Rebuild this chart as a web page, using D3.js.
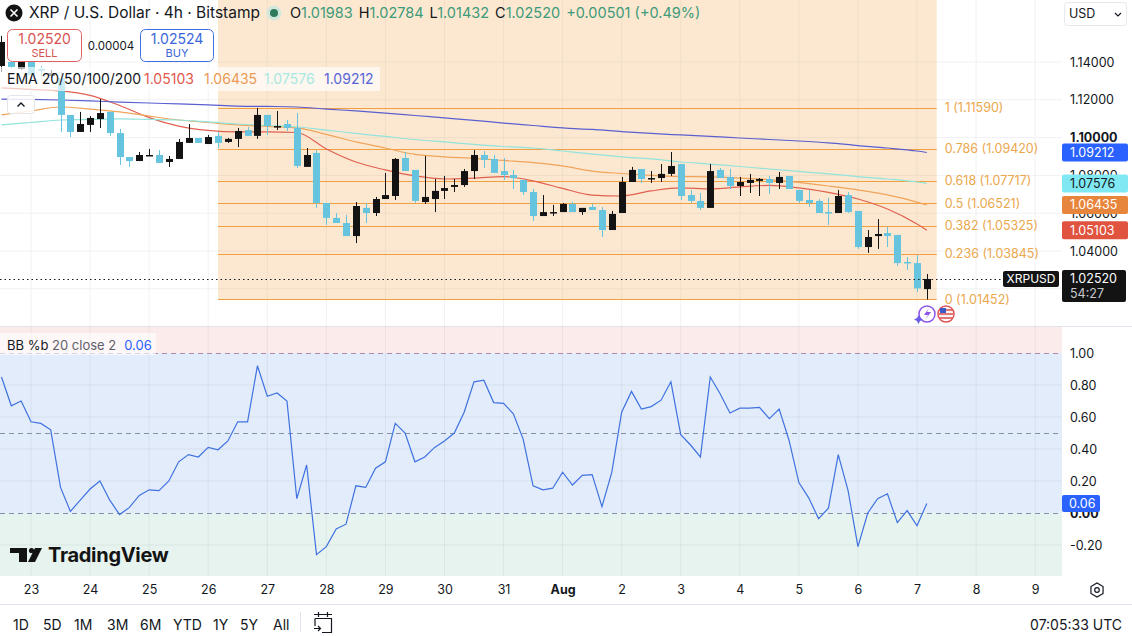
<!DOCTYPE html>
<html>
<head>
<meta charset="utf-8">
<script src="https://cdn.jsdelivr.net/npm/d3@7"></script>
<style>
html, body { margin: 0; padding: 0; background: #fff; overflow: hidden; }
svg { display: block; font-family: Inter, "Noto Sans", sans-serif; }
</style>
</head>
<body>
<div id="chart"></div>
<script>
// XRP/USD 4h candles, first one = Jul 22 12:00 UTC, one every 4 hours
const opens = [1.1379,1.1400,1.1363,1.1400,1.1363,1.1326,1.1315,1.1120,1.1030,1.1067,1.1098,1.1136,1.1024,1.0897,1.0876,1.0903,1.0908,1.0871,1.0887,1.0972,1.0998,1.0966,1.1009,1.0977,1.0993,1.1040,1.1009,1.1120,1.1056,1.1072,1.1051,1.0845,1.0919,1.0654,1.0575,1.0548,1.0479,1.0628,1.0601,1.0675,1.0691,1.0892,1.0829,1.0659,1.0675,1.0718,1.0739,1.0749,1.0823,1.0908,1.0887,1.0823,1.0802,1.0776,1.0712,1.0585,1.0601,1.0606,1.0649,1.0606,1.0633,1.0617,1.0511,1.0601,1.0765,1.0834,1.0781,1.0786,1.0808,1.0860,1.0696,1.0665,1.0628,1.0829,1.0792,1.0744,1.0760,1.0771,1.0781,1.0760,1.0797,1.0723,1.0670,1.0665,1.0606,1.0601,1.0696,1.0612,1.0421,1.0479,1.0495,1.0485,1.0342,1.0336,1.01983];
const highs = [1.1538,1.1411,1.1405,1.1411,1.1379,1.1358,1.1347,1.1120,1.1136,1.1114,1.1204,1.1136,1.1046,1.0897,1.0924,1.0940,1.0934,1.0903,1.0993,1.1072,1.0998,1.1014,1.1030,1.0998,1.1051,1.1056,1.1157,1.1120,1.1141,1.1093,1.1130,1.0945,1.0934,1.0654,1.0601,1.0591,1.0659,1.0654,1.0686,1.0813,1.0892,1.0924,1.0829,1.0903,1.0781,1.0797,1.0781,1.0834,1.0934,1.0929,1.0908,1.0892,1.0829,1.0776,1.0728,1.0696,1.0644,1.0654,1.0659,1.0628,1.0649,1.0633,1.0612,1.0792,1.0845,1.0834,1.0823,1.0860,1.0924,1.0860,1.0723,1.0707,1.0860,1.0839,1.0834,1.0792,1.0808,1.0786,1.0797,1.0818,1.0797,1.0723,1.0723,1.0675,1.0681,1.0723,1.0712,1.0612,1.0511,1.0569,1.0527,1.0485,1.0368,1.0379,1.02784];
const lows = [1.1347,1.1363,1.1358,1.1305,1.1326,1.1315,1.1030,1.1003,1.1030,1.1030,1.1051,1.1009,1.0855,1.0845,1.0876,1.0903,1.0866,1.0845,1.0887,1.0972,1.0972,1.0966,1.0945,1.0972,1.0950,1.1009,1.0993,1.1014,1.1040,1.1035,1.0839,1.0845,1.0628,1.0538,1.0548,1.0479,1.0442,1.0548,1.0585,1.0675,1.0670,1.0823,1.0654,1.0649,1.0606,1.0675,1.0712,1.0739,1.0781,1.0839,1.0813,1.0776,1.0728,1.0696,1.0559,1.0585,1.0585,1.0606,1.0606,1.0591,1.0617,1.0474,1.0511,1.0601,1.0765,1.0760,1.0760,1.0765,1.0797,1.0670,1.0654,1.0617,1.0628,1.0786,1.0728,1.0691,1.0707,1.0691,1.0702,1.0728,1.0728,1.0654,1.0633,1.0601,1.0538,1.0601,1.0601,1.0411,1.0390,1.0411,1.0421,1.0321,1.0300,1.0183,1.01432];
const closes = [1.1506,1.1374,1.1400,1.1331,1.1353,1.1342,1.1120,1.1030,1.1072,1.1104,1.1130,1.1024,1.0897,1.0876,1.0908,1.0908,1.0866,1.0887,1.0977,1.0998,1.0972,1.1003,1.0972,1.0993,1.1035,1.1009,1.1120,1.1061,1.1061,1.1051,1.0850,1.0908,1.0654,1.0575,1.0548,1.0479,1.0638,1.0601,1.0675,1.0696,1.0887,1.0823,1.0665,1.0686,1.0718,1.0733,1.0749,1.0823,1.0908,1.0882,1.0813,1.0802,1.0786,1.0712,1.0585,1.0606,1.0606,1.0649,1.0606,1.0628,1.0617,1.0511,1.0596,1.0765,1.0829,1.0781,1.0786,1.0808,1.0850,1.0691,1.0665,1.0628,1.0823,1.0786,1.0744,1.0765,1.0776,1.0781,1.0760,1.0792,1.0728,1.0665,1.0654,1.0601,1.0601,1.0691,1.0606,1.0421,1.0474,1.0490,1.0479,1.0336,1.0336,1.02019,1.02520];

// BB %b (20, close, 2), one value per candle
const bbPct = [0.85,0.67,0.70,0.57,0.56,0.52,0.16,0.01,0.08,0.15,0.20,0.08,-0.01,0.035,0.11,0.145,0.14,0.20,0.32,0.365,0.35,0.41,0.395,0.45,0.57,0.57,0.92,0.73,0.75,0.70,0.09,0.30,-0.26,-0.21,-0.10,-0.07,0.17,0.16,0.28,0.32,0.56,0.50,0.32,0.35,0.41,0.45,0.50,0.63,0.82,0.83,0.69,0.685,0.62,0.46,0.17,0.145,0.155,0.255,0.175,0.235,0.24,0.04,0.255,0.63,0.76,0.65,0.665,0.705,0.82,0.49,0.425,0.35,0.85,0.745,0.625,0.655,0.655,0.66,0.59,0.65,0.455,0.19,0.095,-0.035,0.03,0.365,0.14,-0.21,0.00,0.09,0.12,-0.06,0.015,-0.08,0.06];

// EMA readings, taken every 3rd candle (index into the candle list)
const emaIdx = [0,3,6,9,12,15,18,21,24,27,30,33,36,39,42,45,48,51,54,57,60,63,66,69,72,75,78,81,84,87,90,93,94];
const ema20 = [1.1263,1.1255,1.1247,1.1223,1.1170,1.1106,1.1061,1.1038,1.1030,1.1030,1.1027,1.0940,1.0871,1.0829,1.0797,1.0781,1.0786,1.0794,1.0771,1.0731,1.0696,1.0691,1.0718,1.0734,1.0728,1.0739,1.0747,1.0734,1.0710,1.0675,1.0622,1.0543,1.05103];
const ema50 = [1.1120,1.1141,1.1162,1.1151,1.1136,1.1114,1.1093,1.1080,1.1067,1.1059,1.1051,1.1017,1.0977,1.0945,1.0911,1.0898,1.0890,1.0879,1.0868,1.0850,1.0823,1.0810,1.0800,1.0794,1.0792,1.0786,1.0778,1.0763,1.0744,1.0723,1.0697,1.0659,1.06435];
const ema100 = [1.1067,1.1080,1.1093,1.1096,1.1099,1.1096,1.1093,1.1083,1.1072,1.1064,1.1056,1.1040,1.1022,1.1006,1.0990,1.0977,1.0964,1.0953,1.0945,1.0929,1.0913,1.0898,1.0887,1.0871,1.0860,1.0847,1.0834,1.0821,1.0808,1.0794,1.0781,1.0765,1.07576];
const ema200 = [1.1204,1.1202,1.1199,1.1194,1.1188,1.1183,1.1178,1.1173,1.1167,1.1165,1.1162,1.1151,1.1141,1.1130,1.1117,1.1104,1.1091,1.1077,1.1064,1.1051,1.1043,1.1032,1.1022,1.1014,1.1006,1.0998,1.0990,1.0982,1.0972,1.0958,1.0945,1.0929,1.09212];

// fib retracement, drawn from candle 22 (Jul 26 04:00) to candle 95
const fibRatios = [1, 0.786, 0.618, 0.5, 0.382, 0.236, 0];
const fibPrices = [1.11590, 1.09420, 1.07717, 1.06521, 1.05325, 1.03845, 1.01452];

const priceTicks = [1.02, 1.04, 1.06, 1.08, 1.10, 1.12, 1.14];
const priceLabels = [1.04, 1.06, 1.08, 1.10, 1.12, 1.14];
const bbTicks = [1, 0.8, 0.6, 0.4, 0.2, 0, -0.2];
const periods = ["1D", "5D", "1M", "3M", "6M", "YTD", "1Y", "5Y", "All"];

const lastPrice = 1.02520;
const W = 1132, H = 636;
const plotRight = 1062;
const upColor = "#131313", downColor = "#67c4de";
const emaColors = ["#e0604f", "#f0a45a", "#92e3dc", "#5a5fd0"];
const emaBox = ["#e0533f", "#e8853d", "#80e8f2", "#2962ff"];
const emaText = ["#e0574c", "#eb9a55", "#a8e8e2", "#5864d8"];
const fibLine = "#f0a040", fibLabel = "#eba74c";

const t0 = Date.UTC(2025, 6, 22, 12);
const step = 4 * 3600 * 1000;
const timeAt = i => new Date(t0 + i * step);
const candles = opens.map((o, i) => ({ t: timeAt(i), o, h: highs[i], l: lows[i], c: closes[i] }));

const x = d3.scaleUtc()
  .domain([new Date(Date.UTC(2025, 6, 23)), new Date(Date.UTC(2025, 7, 7))])
  .range([31, 917]);
const y = d3.scaleLinear().domain([1.04, 1.14]).range([251, 62]);
const yb = d3.scaleLinear().domain([0, 1]).range([513, 353]);

const days = d3.utcDay.range(new Date(Date.UTC(2025, 6, 23)), new Date(Date.UTC(2025, 7, 10)));

const svg = d3.select("#chart").append("svg").attr("width", W).attr("height", H);
svg.append("rect").attr("width", W).attr("height", H).attr("fill", "#fff");

const defs = svg.append("defs");
defs.append("clipPath").attr("id", "clipMain")
  .append("rect").attr("x", 0).attr("y", 0).attr("width", plotRight).attr("height", 326);
defs.append("clipPath").attr("id", "clipInd")
  .append("rect").attr("x", 0).attr("y", 327).attr("width", plotRight).attr("height", 249);

// ---------- main pane ----------
const main = svg.append("g").attr("clip-path", "url(#clipMain)");

main.selectAll(".vgrid").data(days).join("line")
  .attr("x1", d => x(d)).attr("x2", d => x(d))
  .attr("y1", 0).attr("y2", 326)
  .attr("stroke", "#f0f1f4");
main.selectAll(".hgrid").data(priceTicks).join("line")
  .attr("x1", 0).attr("x2", plotRight)
  .attr("y1", d => y(d)).attr("y2", d => y(d))
  .attr("stroke", "#f0f1f4");

// fib box
const fx0 = x(timeAt(22)), fx1 = x(timeAt(95));
main.append("rect")
  .attr("x", fx0).attr("y", 0)
  .attr("width", fx1 - fx0).attr("height", y(fibPrices[6]))
  .attr("fill", "rgba(244,164,66,0.25)");
main.selectAll(".fib").data(fibPrices).join("line")
  .attr("x1", fx0).attr("x2", fx1)
  .attr("y1", d => Math.round(y(d)) + 0.5).attr("y2", d => Math.round(y(d)) + 0.5)
  .attr("stroke", fibLine).attr("stroke-width", 1);
main.selectAll(".fibtxt").data(fibPrices).join("text")
  .attr("x", fx1 + 8).attr("y", d => y(d)).attr("dy", "0.35em")
  .attr("font-size", 12.5).attr("fill", fibLabel)
  .text((d, i) => `${fibRatios[i]} (${d.toFixed(5)})`);

// ema lines
const emaLine = d3.line()
  .x(d => x(timeAt(d[0])))
  .y(d => y(d[1]))
  .curve(d3.curveMonotoneX);
[ema20, ema50, ema100, ema200].forEach((s, j) => {
  main.append("path")
    .datum(s.map((v, i) => [emaIdx[i], v]))
    .attr("d", emaLine)
    .attr("fill", "none")
    .attr("stroke", emaColors[j])
    .attr("stroke-width", 1.2);
});

// candles
const bw = 7;
const cg = main.selectAll(".candle").data(candles).join("g");
cg.append("line")
  .attr("x1", d => Math.round(x(d.t)) + 0.5).attr("x2", d => Math.round(x(d.t)) + 0.5)
  .attr("y1", d => y(d.h)).attr("y2", d => y(d.l))
  .attr("stroke", d => d.c >= d.o ? upColor : downColor);
cg.append("rect")
  .attr("x", d => Math.round(x(d.t)) - 3)
  .attr("y", d => y(Math.max(d.o, d.c)))
  .attr("width", bw)
  .attr("height", d => Math.max(1.5, Math.abs(y(d.o) - y(d.c))))
  .attr("fill", d => d.c >= d.o ? upColor : downColor);

// last price dotted line
main.append("line")
  .attr("x1", 0).attr("x2", 1003)
  .attr("y1", Math.round(y(lastPrice)) + 0.5).attr("y2", Math.round(y(lastPrice)) + 0.5)
  .attr("stroke", "#131722").attr("stroke-dasharray", "1.5,3");

// small event icons
const ev = svg.append("g");
ev.append("circle").attr("cx", 927).attr("cy", 314).attr("r", 8)
  .attr("fill", "#fff").attr("stroke", "#8a55e8").attr("stroke-width", 1.5);
ev.append("path").attr("d", "M929,308 L924,315 L928,315 L925,320 L931,312 L927,312 Z").attr("fill", "#8a55e8");
ev.append("path").attr("d", "M917,318 l1.5,-3 l1.5,3 l3,1.5 l-3,1.5 l-1.5,3 l-1.5,-3 l-3,-1.5 Z").attr("fill", "#6a5be8");
ev.append("circle").attr("cx", 946).attr("cy", 314).attr("r", 8)
  .attr("fill", "#fff").attr("stroke", "#e05555").attr("stroke-width", 1.5);
ev.append("rect").attr("x", 940).attr("y", 308).attr("width", 12).attr("height", 12).attr("rx", 5).attr("fill", "#f5f5f5");
[310, 314, 318].forEach(v => ev.append("line").attr("x1", 939).attr("x2", 953).attr("y1", v).attr("y2", v).attr("stroke", "#e05555").attr("stroke-width", 1.6));
ev.append("rect").attr("x", 940).attr("y", 308).attr("width", 6).attr("height", 5).attr("fill", "#3a5bc7");

// ---------- indicator pane ----------
svg.append("line").attr("x1", 0).attr("x2", W).attr("y1", 326.5).attr("y2", 326.5).attr("stroke", "#e0e3eb");
const ind = svg.append("g").attr("clip-path", "url(#clipInd)");
ind.append("rect").attr("x", 0).attr("y", 327).attr("width", plotRight).attr("height", yb(1) - 327).attr("fill", "#fcebeb");
ind.append("rect").attr("x", 0).attr("y", yb(1)).attr("width", plotRight).attr("height", yb(0) - yb(1)).attr("fill", "#e3ecfa");
ind.append("rect").attr("x", 0).attr("y", yb(0)).attr("width", plotRight).attr("height", 576 - yb(0)).attr("fill", "#e7f3ef");

ind.selectAll(".vg").data(days).join("line")
  .attr("x1", d => x(d)).attr("x2", d => x(d))
  .attr("y1", 327).attr("y2", 576)
  .attr("stroke", "rgba(0,0,0,0.05)");
ind.selectAll(".hg").data([0.8, 0.6, 0.4, 0.2, -0.2]).join("line")
  .attr("x1", 0).attr("x2", plotRight)
  .attr("y1", d => yb(d)).attr("y2", d => yb(d))
  .attr("stroke", "rgba(0,0,0,0.05)");
ind.selectAll(".dash").data([1, 0.5, 0]).join("line")
  .attr("x1", 0).attr("x2", plotRight)
  .attr("y1", d => Math.round(yb(d)) + 0.5).attr("y2", d => Math.round(yb(d)) + 0.5)
  .attr("stroke", d => d === 1 ? "#b08aa8" : "#8290a8")
  .attr("stroke-dasharray", "5,4");

ind.append("path")
  .datum(bbPct.map((v, i) => [timeAt(i), v]))
  .attr("d", d3.line().x(d => x(d[0])).y(d => yb(d[1])))
  .attr("fill", "none")
  .attr("stroke", "#3f72e0")
  .attr("stroke-width", 1.2);

// TradingView logo
const logo = svg.append("g");
logo.append("path").attr("d", "M10,548 H27 V562 H19 V553 H10 Z").attr("fill", "#131313");
logo.append("circle").attr("cx", 31.5).attr("cy", 550.5).attr("r", 2.6).attr("fill", "#131313");
logo.append("path").attr("d", "M35,548 H42 L35,562 H28 Z").attr("fill", "#131313");
logo.append("text").attr("x", 48).attr("y", 562).attr("font-size", 20).attr("font-weight", 700)
  .attr("fill", "#131313").attr("letter-spacing", "-0.3").text("TradingView");

// ---------- axes ----------
const priceAxis = d3.axisRight(y).tickValues(priceLabels).tickFormat(d => d.toFixed(5)).tickSize(0).tickPadding(8);
const pa = svg.append("g").attr("transform", `translate(${plotRight},0)`).call(priceAxis);
pa.select(".domain").remove();
pa.selectAll("text").attr("font-size", 12.5).attr("fill", "#131722").attr("font-family", "Inter, sans-serif")
  .attr("font-weight", d => d === 1.10 ? 700 : 400);

const bbAxis = d3.axisRight(yb).tickValues(bbTicks).tickFormat(d => d.toFixed(2)).tickSize(0).tickPadding(8);
const ba = svg.append("g").attr("transform", `translate(${plotRight},0)`).call(bbAxis);
ba.select(".domain").remove();
ba.selectAll("text").attr("font-size", 12.5).attr("fill", "#131722").attr("font-family", "Inter, sans-serif")
  .attr("font-weight", d => d === 0 ? 700 : 400);

const timeAxis = d3.axisBottom(x).tickValues(days)
  .tickFormat(d => d.getUTCDate() === 1 ? d3.utcFormat("%b")(d) : d.getUTCDate())
  .tickSize(0).tickPadding(9);
const ta = svg.append("g").attr("transform", "translate(0,576)").call(timeAxis);
ta.select(".domain").remove();
ta.selectAll("text").attr("font-size", 12.5).attr("fill", "#131722").attr("font-family", "Inter, sans-serif")
  .attr("font-weight", d => d.getUTCDate() === 1 ? 700 : 400);

// settings icon
svg.append("path")
  .attr("d", d3.range(7).map(i => {
    const a = Math.PI / 3 * i + Math.PI / 6;
    return (i ? "L" : "M") + (1097 + 7 * Math.cos(a)).toFixed(2) + "," + (590 + 7 * Math.sin(a)).toFixed(2);
  }).join("") + "Z")
  .attr("fill", "none").attr("stroke", "#131722").attr("stroke-width", 1.2);
svg.append("circle").attr("cx", 1097).attr("cy", 590).attr("r", 2.3).attr("fill", "none").attr("stroke", "#131722").attr("stroke-width", 1.2);

// value boxes on the price axis
const lastVals = [ema20, ema50, ema100, ema200].map(s => s[s.length - 1]);
lastVals.forEach((v, j) => {
  svg.append("rect").attr("x", plotRight).attr("y", y(v) - 9).attr("width", 66).attr("height", 18)
    .attr("rx", 2).attr("fill", emaBox[j]);
  svg.append("text").attr("x", plotRight + 8).attr("y", y(v)).attr("dy", "0.35em")
    .attr("font-size", 12.5).attr("fill", j === 2 ? "#131722" : "#fff").text(v.toFixed(5));
});
svg.append("rect").attr("x", plotRight).attr("y", y(lastPrice) - 9).attr("width", 64).attr("height", 32)
  .attr("rx", 2).attr("fill", "#131313");
svg.append("text").attr("x", plotRight + 8).attr("y", y(lastPrice)).attr("dy", "0.35em")
  .attr("font-size", 12.5).attr("fill", "#fff").text(lastPrice.toFixed(5));
svg.append("text").attr("x", plotRight + 8).attr("y", y(lastPrice) + 15).attr("dy", "0.35em")
  .attr("font-size", 12.5).attr("fill", "#c6c8ce").text("54:27");
svg.append("rect").attr("x", 1003).attr("y", y(lastPrice) - 8).attr("width", 56).attr("height", 16)
  .attr("rx", 2).attr("fill", "#131313");
svg.append("text").attr("x", 1031).attr("y", y(lastPrice)).attr("dy", "0.35em").attr("text-anchor", "middle")
  .attr("font-size", 12).attr("fill", "#fff").text("XRPUSD");

const lastBB = bbPct[bbPct.length - 1];
svg.append("rect").attr("x", plotRight).attr("y", yb(lastBB) - 8.5).attr("width", 38).attr("height", 17)
  .attr("rx", 2).attr("fill", "#2962ff");
svg.append("text").attr("x", plotRight + 7).attr("y", yb(lastBB)).attr("dy", "0.35em")
  .attr("font-size", 12.5).attr("fill", "#fff").text(lastBB.toFixed(2));

// USD dropdown
svg.append("rect").attr("x", 1064.5).attr("y", 2.5).attr("width", 62).attr("height", 23).attr("rx", 3)
  .attr("fill", "#fff").attr("stroke", "#e6e8ee");
svg.append("text").attr("x", 1069).attr("y", 14).attr("dy", "0.35em").attr("font-size", 12.5).attr("fill", "#131722").text("USD");
svg.append("path").attr("d", "M1115,13 l3,3 l3,-3").attr("fill", "none").attr("stroke", "#131722").attr("stroke-width", 1.2);

// ---------- header / legends ----------
svg.append("circle").attr("cx", 14).attr("cy", 13).attr("r", 8.5).attr("fill", "#131313");
svg.append("path").attr("d", "M10.5,9.5 L17.5,16.5 M17.5,9.5 L10.5,16.5").attr("stroke", "#fff").attr("stroke-width", 1.6);
svg.append("text").attr("x", 29).attr("y", 13).attr("dy", "0.35em").attr("font-size", 15.5).attr("fill", "#131722")
  .text("XRP / U.S. Dollar · 4h · Bitstamp");
svg.append("circle").attr("cx", 274).attr("cy", 13).attr("r", 7.5).attr("fill", "#d4e7dc");
svg.append("circle").attr("cx", 274).attr("cy", 13).attr("r", 4).attr("fill", "#2f7a5a");

const last = candles[candles.length - 1];
const prevClose = closes[closes.length - 2];
const chg = last.c - prevClose;
const ohlc = svg.append("text").attr("x", 290).attr("y", 13).attr("dy", "0.35em").attr("font-size", 14.5);
[["O", last.o], ["H", last.h], ["L", last.l], ["C", last.c]].forEach(([k, v], i) => {
  ohlc.append("tspan").attr("fill", "#131722").attr("dx", i ? 6 : 0).text(k);
  ohlc.append("tspan").attr("fill", "#3d9a7a").text(v.toFixed(5));
});
ohlc.append("tspan").attr("fill", "#3d9a7a").attr("dx", 6)
  .text(`${chg >= 0 ? "+" : ""}${chg.toFixed(5)} (+${(chg / prevClose * 100).toFixed(2)}%)`);

// sell / buy
svg.append("rect").attr("x", 7.5).attr("y", 29.5).attr("width", 74).attr("height", 32).attr("rx", 5)
  .attr("fill", "#fff").attr("stroke", "#e06060");
svg.append("text").attr("x", 44.5).attr("y", 39).attr("dy", "0.35em").attr("text-anchor", "middle")
  .attr("font-size", 14).attr("fill", "#d9534f").text("1.02520");
svg.append("text").attr("x", 44.5).attr("y", 53).attr("dy", "0.35em").attr("text-anchor", "middle")
  .attr("font-size", 11).attr("fill", "#d9534f").text("SELL");
svg.append("text").attr("x", 111).attr("y", 46).attr("dy", "0.35em").attr("text-anchor", "middle")
  .attr("font-size", 11.5).attr("fill", "#131722").text("0.00004");
svg.append("rect").attr("x", 140.5).attr("y", 29.5).attr("width", 73).attr("height", 32).attr("rx", 5)
  .attr("fill", "#fff").attr("stroke", "#3f6fe0");
svg.append("text").attr("x", 177).attr("y", 39).attr("dy", "0.35em").attr("text-anchor", "middle")
  .attr("font-size", 14).attr("fill", "#3a66d8").text("1.02524");
svg.append("text").attr("x", 177).attr("y", 53).attr("dy", "0.35em").attr("text-anchor", "middle")
  .attr("font-size", 11).attr("fill", "#3a66d8").text("BUY");

// EMA legend
svg.append("rect").attr("x", 0).attr("y", 67).attr("width", 380).attr("height", 24).attr("fill", "rgba(255,255,255,0.65)");
svg.append("text").attr("x", 7).attr("y", 79).attr("dy", "0.35em").attr("font-size", 14).attr("fill", "#131722").text("EMA 20/50/100/200");
lastVals.forEach((v, j) => {
  svg.append("text").attr("x", 144 + j * 60).attr("y", 79).attr("dy", "0.35em").attr("font-size", 14)
    .attr("fill", emaText[j]).text(v.toFixed(5));
});
svg.append("rect").attr("x", 7.5).attr("y", 95.5).attr("width", 27).attr("height", 18).attr("rx", 3)
  .attr("fill", "rgba(255,255,255,0.85)").attr("stroke", "#e3e5ea");
svg.append("path").attr("d", "M17.5,106.5 l3.5,-3.5 l3.5,3.5").attr("fill", "none").attr("stroke", "#131722").attr("stroke-width", 1.4);

// BB legend
svg.append("rect").attr("x", 0).attr("y", 333).attr("width", 156).attr("height", 22).attr("fill", "rgba(255,255,255,0.6)");
const bbl = svg.append("text").attr("x", 7).attr("y", 345).attr("dy", "0.35em").attr("font-size", 13);
bbl.append("tspan").attr("fill", "#131722").text("BB %b ");
bbl.append("tspan").attr("fill", "#5d606b").text("20 close 2");
bbl.append("tspan").attr("fill", "#2962ff").attr("dx", 8).text(lastBB.toFixed(2));

// ---------- bottom toolbar ----------
svg.append("line").attr("x1", 0).attr("x2", W).attr("y1", 604.5).attr("y2", 604.5).attr("stroke", "#e0e3eb");
const px = [13, 43, 74, 107, 140, 173, 213, 240, 273];
svg.selectAll(".period").data(periods).join("text")
  .attr("x", (d, i) => px[i]).attr("y", 625).attr("dy", "0.35em")
  .attr("font-size", 14).attr("fill", "#131722").text(d => d);
svg.append("line").attr("x1", 300.5).attr("x2", 300.5).attr("y1", 612).attr("y2", 632).attr("stroke", "#e0e3eb");
svg.append("path")
  .attr("d", "M315,618.5 H331.5 V632.5 H322 M315,618.5 V626 M314,614.5 H332 M318.5,612 V617 M327.5,612 V617 M314,628.5 H320.5 M318,626 l2.5,2.5 l-2.5,2.5")
  .attr("fill", "none").attr("stroke", "#131722").attr("stroke-width", 1.2);
svg.append("text").attr("x", 1122).attr("y", 625).attr("dy", "0.35em").attr("text-anchor", "end")
  .attr("font-size", 14).attr("fill", "#131722").text("07:05:33 UTC");
</script>
</body>
</html>
